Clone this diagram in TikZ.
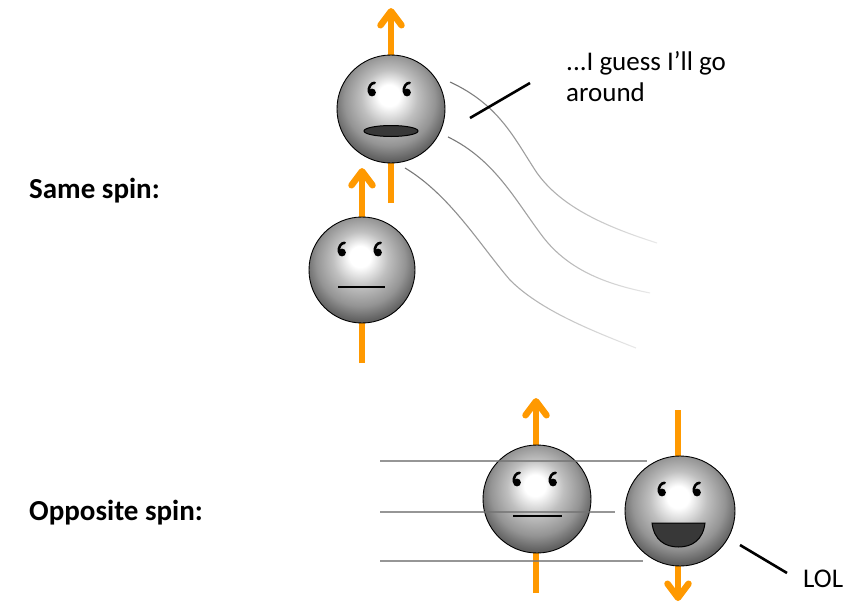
\documentclass[tikz,border=0pt]{standalone}
\usepackage{fontspec}
\setmainfont{Carlito}
\usetikzlibrary{arrows.meta,fadings}

\definecolor{spinorange}{RGB}{255,153,0}
\pgfdeclareradialshading{sphere}{\pgfpoint{-1bp}{7bp}}{%
  color(0bp)=(white); color(5bp)=(white);
  color(13bp)=(white!75!black); color(21bp)=(white!58!black);
  color(27bp)=(white!38!black); color(50bp)=(white!35!black)}
\tikzfading[name=trail fade, left color=transparent!0,
  middle color=transparent!0, right color=transparent!85]

\tikzset{
  ball/.style={circle, draw=black, line width=0.9pt, shading=sphere,
    minimum size=108pt, inner sep=0pt},
  spin/.style={draw=spinorange, line width=6.5pt,
    -{Straight Barb[length=14pt 0 0, width=21pt 0 0, round]}},
  mouth/.style={draw=black, line width=2.2pt},
  trail/.style={draw=black!55, line width=1.1pt, path fading=trail fade},
  track/.style={draw=black!55, line width=1.1pt, opacity=0.75},
  callout/.style={draw=black, line width=2.6pt},
  heading/.style={font=\fontsize{29}{34}\selectfont\bfseries, inner sep=0pt},
  say/.style={font=\fontsize{27}{32}\selectfont, inner sep=0pt},
  eye/.pic={
    \fill (0,2.5) circle (3.9);
    \draw[line width=2.6pt, line cap=round]
      (-3.2,2) .. controls (-3.6,-3.5) and (-1,-7) .. (2.6,-7.2);
  }
}

\begin{document}
\begin{tikzpicture}[x=1pt, y=-1pt]
  \useasboundingbox (0,0) rectangle (867,603);

  % spin arrows, behind the balls
  \coordinate (s1tail) at (391,203);  \coordinate (s1tip) at (391,8);
  \coordinate (s2tail) at (362,363);  \coordinate (s2tip) at (362,168);
  \coordinate (o1tail) at (536,593);  \coordinate (o1tip) at (536,398);
  \coordinate (o2tail) at (678,410);  \coordinate (o2tip) at (678,601);
  \draw[spin] (s1tail) -- (s1tip);
  \draw[spin] (s2tail) -- (s2tip);
  \draw[spin] (o1tail) -- (o1tip);
  \draw[spin] (o2tail) -- (o2tip);

  % the four electrons
  \node[ball] (s1) at (391,109) {};
  \node[ball, minimum size=106pt] (s2) at (362,270) {};
  \node[ball] (o1) at (537,499) {};
  \node[ball, minimum size=110pt] (o2) at (680,511) {};

  % faces
  \pic at (372,90) {eye};  \pic at (407,90) {eye};
  \filldraw[fill=black!78, draw=black, line width=1pt]
    (391,131) ellipse [x radius=27, y radius=5.5];
  \pic at (342,250) {eye};  \pic at (378,250) {eye};
  \draw[mouth] (338,287) -- (385,287);
  \pic at (517,480) {eye};  \pic at (553,480) {eye};
  \draw[mouth] (513,516) -- (562,516);
  \pic at (662,490) {eye};  \pic at (697,490) {eye};
  \filldraw[fill=black!78, draw=black, line width=1pt]
    (652,523) -- (705,523) .. controls (703,540) and (692,547) .. (678.5,547)
    .. controls (665,547) and (654,540) .. cycle;

  % paths bending round the top electron
  \draw[trail] (450,82) .. controls (500,105) and (515,140) .. (537,173)
    .. controls (560,205) and (600,225) .. (657,243);
  \draw[trail] (448,137) .. controls (495,160) and (515,200) .. (543,237)
    .. controls (570,272) and (610,285) .. (650,293);
  \draw[trail] (405,168) .. controls (450,195) and (480,245) .. (510,280)
    .. controls (540,310) and (590,330) .. (636,348);

  % straight tracks through the lower pair
  \draw[track] (380,461) -- (647,461);
  \draw[track] (380,512) -- (615,512);
  \draw[track] (380,561) -- (643,561);

  % speech
  \coordinate (c1a) at (470,118);  \coordinate (c1b) at (530,83);
  \draw[callout] (c1a) -- (c1b);
  \coordinate (c2a) at (740,545);  \coordinate (c2b) at (787,573);
  \draw[callout] (c2a) -- (c2b);
  \node[say, anchor=base west] (say1) at (566,70) {...I guess I’ll go};
  \node[say, anchor=base west] (say2) at (566,101) {around};
  \node[say, anchor=base west] (lol) at (803,587) {LOL};

  \node[heading, anchor=base west] (same) at (29,198) {Same spin:};
  \node[heading, anchor=base west] (opp) at (29,520) {Opposite spin:};
\end{tikzpicture}
\end{document}
